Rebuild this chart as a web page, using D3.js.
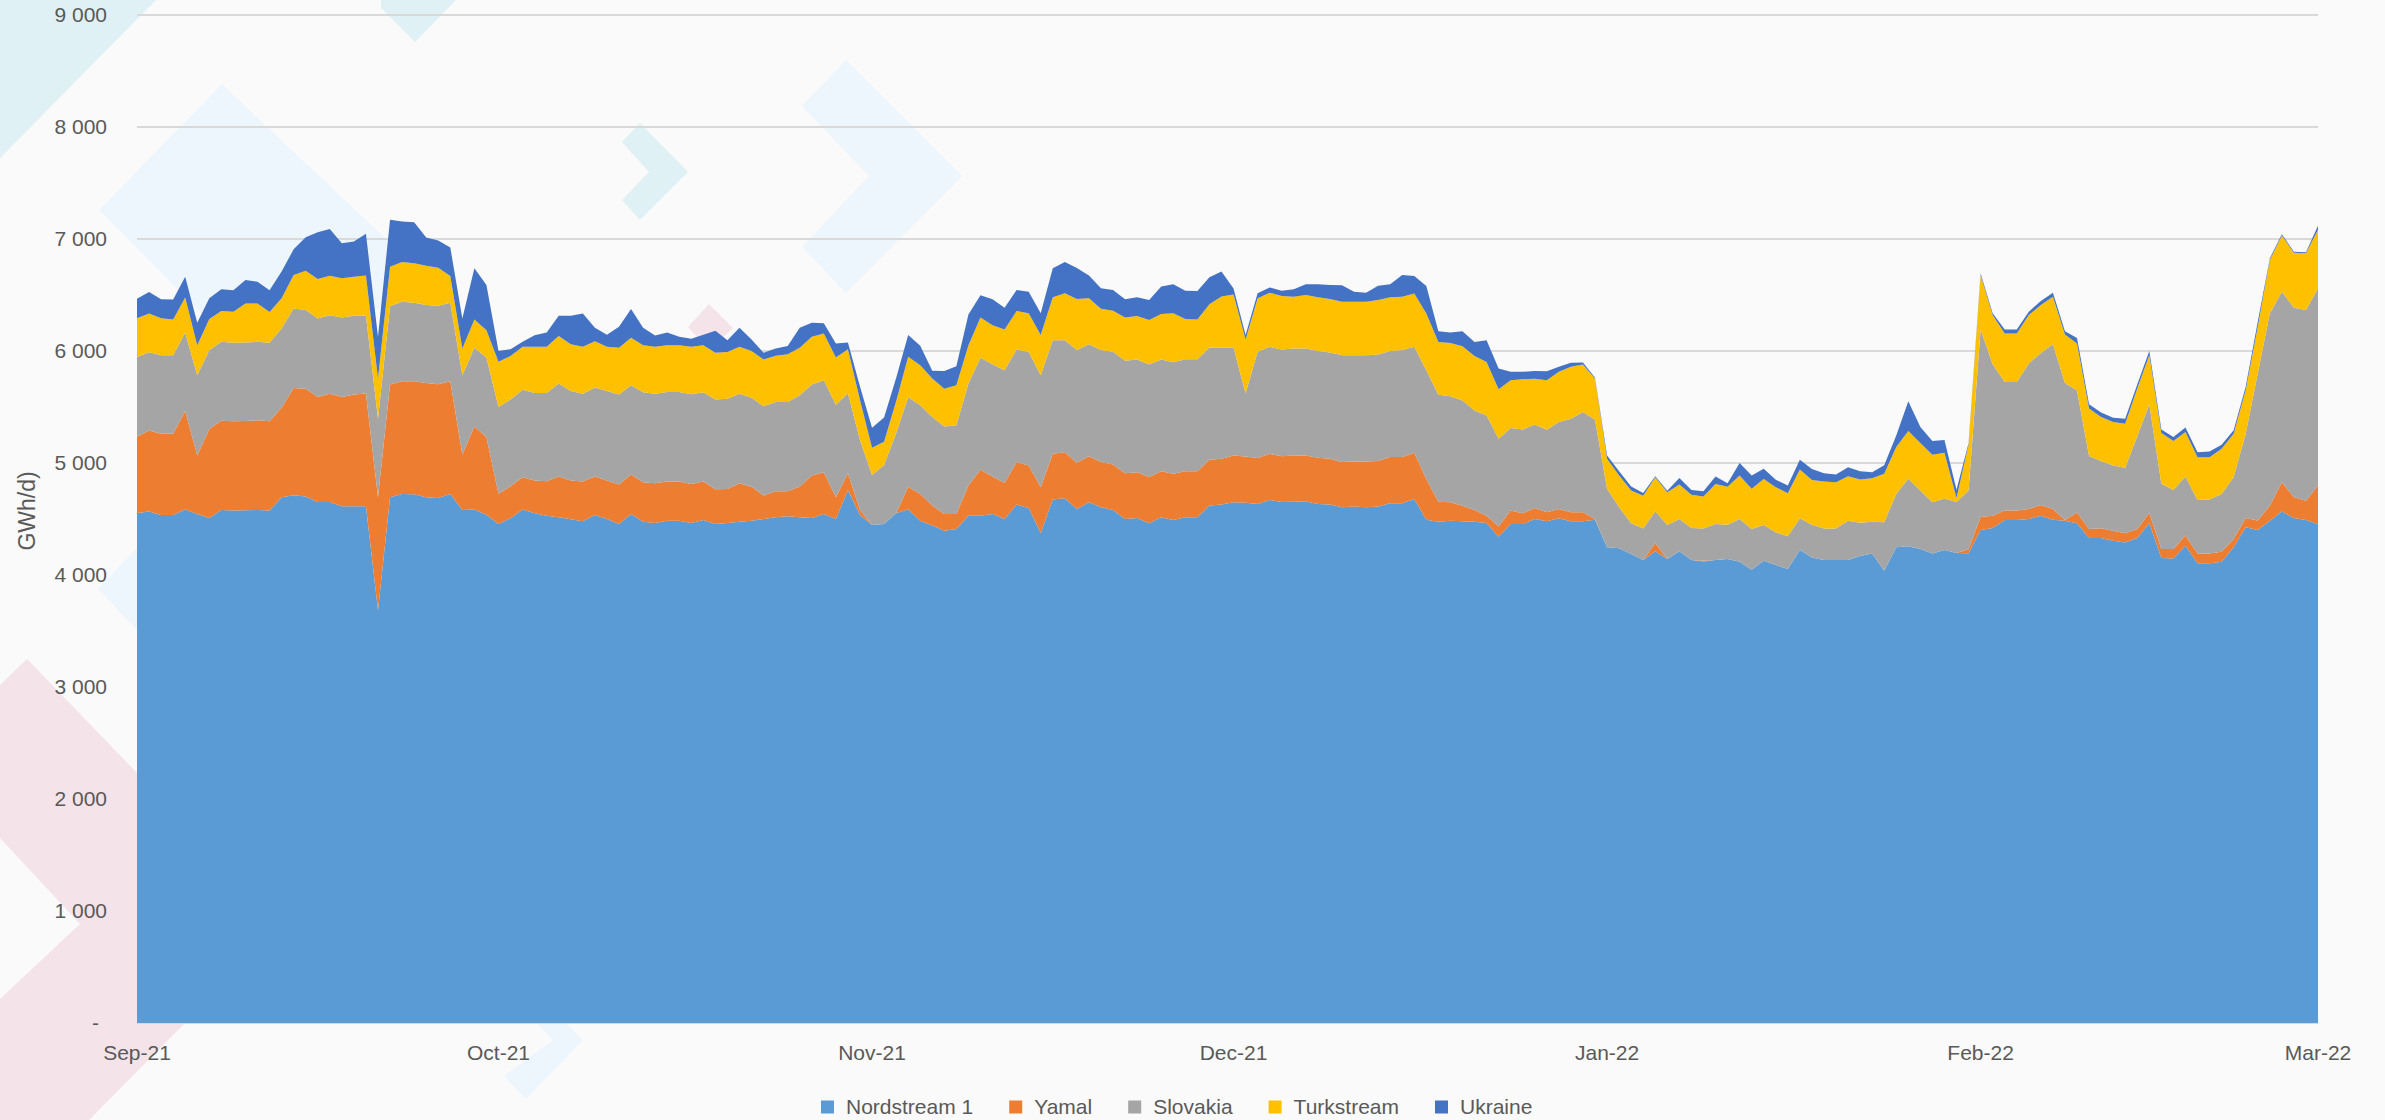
<!DOCTYPE html>
<html>
<head>
<meta charset="utf-8">
<script src="https://cdn.jsdelivr.net/npm/d3@7"></script>
<style>
  body { margin: 0; background: #fafafa; }
  text { font-family: "Liberation Sans", Arial, sans-serif; fill: #595959; }
</style>
</head>
<body>
<script>
// daily flows Sep 1 2021 -> Mar 1 2022, GWh/d
const series = ["Nordstream 1", "Yamal", "Slovakia", "Turkstream", "Ukraine"]
const colors = ["#5B9BD5", "#ED7D31", "#A5A5A5", "#FFC000", "#4472C4"]

const nordstream = [
  4554,4566,4536,4536,4584,4545,4509,4581,4575,4578,4581,4575,4694,4712,4700,4652,4652,4614,4614,4614,
  3686,4694,4724,4721,4694,4688,4724,4581,4584,4539,4456,4506,4584,4551,4530,4515,4497,4479,4536,4500,
  4456,4545,4476,4464,4485,4485,4464,4491,4456,4464,4476,4485,4500,4515,4524,4515,4509,4545,4500,4759,
  4536,4446,4455,4551,4586,4485,4441,4396,4411,4530,4530,4545,4500,4629,4599,4375,4673,4685,4590,4649,
  4605,4581,4500,4509,4462,4515,4491,4515,4515,4620,4629,4649,4644,4635,4670,4652,4655,4658,4635,4629,
  4605,4611,4605,4611,4641,4641,4679,4494,4476,4485,4479,4476,4464,4342,4456,4456,4500,4479,4506,4479,
  4479,4494,4247,4238,4187,4133,4211,4142,4211,4133,4121,4133,4142,4118,4047,4127,4089,4053,4223,4157,
  4133,4133,4133,4169,4193,4038,4247,4256,4232,4193,4223,4196,4194,4402,4420,4491,4491,4500,4530,4494,
  4485,4461,4330,4330,4306,4291,4330,4464,4151,4148,4262,4106,4106,4118,4247,4426,4402,4485,4566,4509,
  4491,4456
]
const yamal = [
  683,725,725,725,880,522,794,797,797,797,800,797,800,958,964,937,967,976,997,1006,
  1009,1006,1006,1009,1021,1015,1006,495,743,692,269,286,289,292,307,364,346,355,343,343,
  352,352,352,355,349,349,349,343,310,304,343,304,209,233,224,275,379,373,195,149,
  45,0,0,0,202,239,179,149,134,269,409,334,322,379,379,409,409,412,412,412,
  403,406,409,409,412,412,412,412,412,409,409,418,415,409,412,409,412,409,412,409,
  403,403,409,406,412,412,412,364,179,164,140,104,66,90,119,95,98,81,84,81,
  81,6,0,0,0,0,75,0,0,0,6,0,0,0,0,0,0,0,0,0,
  0,0,0,0,0,0,0,0,0,0,0,0,36,116,110,84,84,90,95,95,
  6,98,81,87,90,81,81,90,81,84,90,87,87,90,75,84,84,134,263,185,
  173,343
]
const slovakia = [
  710,698,701,701,698,716,704,704,701,701,701,701,707,710,701,701,701,710,704,695,
  701,701,710,701,695,701,701,707,701,710,776,776,782,782,788,830,800,785,794,800,
  803,797,803,800,800,800,800,797,800,806,800,794,797,797,797,815,812,821,825,714,
  625,446,527,714,798,791,791,782,791,910,1000,1003,1006,1006,1012,1000,1015,1000,1006,1000,
  1000,1006,1003,1006,1006,997,997,1000,1000,1003,994,964,561,949,955,952,955,955,952,949,
  955,949,949,952,946,955,946,970,955,946,940,889,895,785,737,749,746,737,776,836,
  895,886,522,367,275,283,283,304,289,286,289,322,307,382,364,319,292,292,283,292,
  283,283,352,298,283,433,477,603,522,457,461,455,524,1673,1352,1149,1149,1298,1358,1471,
  1223,1089,651,600,582,585,827,970,582,528,528,477,480,516,552,752,1313,1716,1701,1692,
  1701,1761
]
const turkstream = [
  346,346,331,319,316,269,278,275,278,349,343,275,269,298,352,352,352,349,349,358,
  358,352,355,352,352,340,239,239,254,245,403,388,382,412,412,424,418,418,415,394,
  418,424,421,418,418,418,424,421,418,418,418,418,418,412,427,424,427,418,423,393,
  357,244,208,286,363,358,343,337,358,343,361,349,364,343,346,358,382,418,457,409,
  370,367,388,388,397,406,436,358,355,385,454,474,483,477,483,477,463,477,480,477,
  477,477,477,486,480,477,477,507,471,477,483,486,477,442,427,448,409,442,448,463,
  424,367,269,283,292,292,304,292,307,298,286,358,340,388,358,412,403,385,436,400,
  418,412,397,385,388,433,418,427,424,424,408,36,408,485,439,433,433,433,427,424,
  433,418,424,394,388,394,427,439,454,436,397,382,379,403,388,388,418,477,501,492,
  507,522
]
const ukraine = [
  173,191,170,179,185,200,185,194,191,209,194,194,239,230,298,418,418,313,313,373,
  373,418,361,367,251,242,254,269,457,403,95,60,45,104,128,182,254,298,119,107,
  188,257,155,101,113,75,72,93,197,104,170,101,60,66,72,179,125,90,125,60,
  119,179,217,208,193,173,69,158,170,275,197,230,194,188,194,194,260,280,275,203,
  182,185,161,167,179,245,260,254,254,242,224,54,39,45,48,48,66,98,116,125,
  146,90,81,128,116,194,155,245,95,93,134,125,194,185,75,66,69,81,45,36,
  18,9,30,39,36,24,9,15,60,42,45,66,30,113,119,90,66,69,87,98,
  75,69,81,75,54,75,104,266,143,122,113,74,15,15,15,36,36,30,36,36,
  30,51,39,39,39,45,36,36,30,36,39,45,51,36,30,30,45,15,12,9,
  9,36
]
const yTicks = [0,1000,2000,3000,4000,5000,6000,7000,8000,9000]

const width = 2385, height = 1120
const margin = {left: 137, right: 67, top: 15, bottom: 97}

const dates = d3.utcDay.range(Date.UTC(2021,8,1), Date.UTC(2022,2,2))
const rows = dates.map((d, i) => ({
  date: d,
  "Nordstream 1": nordstream[i],
  "Yamal": yamal[i],
  "Slovakia": slovakia[i],
  "Turkstream": turkstream[i],
  "Ukraine": ukraine[i]
}))

const svg = d3.select('body').append('svg')
  .attr('width', width).attr('height', height)

svg.append('rect').attr('width', width).attr('height', height).attr('fill', '#fafafa')

// faint chevrons in the background
const deco = [
  {c: '#dff1f4', p: [[0,0],[156,0],[0,158]]},
  {c: '#dff1f4', p: [[381,0],[456,0],[415,42],[381,8]]},
  {c: '#eef6fd', p: [[222,84],[99,210],[240,352],[440,290]]},
  {c: '#dff1f4', p: [[640,123],[688,172],[640,220],[622,200],[649,172],[622,142]]},
  {c: '#eef6fd', p: [[846,60],[962,176],[846,293],[802,247],[869,176],[802,106]]},
  {c: '#f4e3e8', p: [[709,304],[688,327],[709,350],[733,328]]},
  {c: '#eef6fd', p: [[137,548],[98,589],[137,630]]},
  {c: '#f4e3e8', p: [[0,685],[27,659],[283,924],[89,1120],[0,1120],[0,999],[80,924],[0,838]]},
  {c: '#eef6fd', p: [[540,997],[583,1040],[526,1099],[504,1076],[553,1040],[510,997]]}
]
svg.append('g').selectAll('path').data(deco).join('path')
  .attr('d', d => 'M' + d.p.join('L') + 'Z')
  .attr('fill', d => d.c)

const x = d3.scaleUtc()
  .domain([dates[0], dates[dates.length - 1]])
  .range([margin.left, width - margin.right])
const y = d3.scaleLinear()
  .domain([0, 9000])
  .range([height - margin.bottom, margin.top])

//gridlines
svg.append('g').selectAll('line').data(yTicks).join('line')
  .attr('x1', x.range()[0]).attr('x2', x.range()[1])
  .attr('y1', d => y(d)).attr('y2', d => y(d))
  .attr('stroke', '#d9d9d9').attr('stroke-width', 2)

const stacked = d3.stack().keys(series)(rows)
const area = d3.area()
  .x(d => x(d.data.date))
  .y0(d => y(d[0]))
  .y1(d => y(d[1]))

svg.append('g').selectAll('path').data(stacked).join('path')
  .attr('d', area)
  .attr('fill', (d, i) => colors[i])

// y labels
const fmt = d => d === 0 ? '-' : d3.format(',')(d).replace(/,/g, ' ')
svg.append('g').selectAll('text').data(yTicks).join('text')
  .attr('x', d => d === 0 ? 99 : 107)
  .attr('y', d => y(d))
  .attr('dy', '0.35em')
  .attr('text-anchor', 'end')
  .style('font-size', '21px')
  .text(fmt)

// x labels
const months = d3.utcMonth.range(Date.UTC(2021,8,1), Date.UTC(2022,2,2))
svg.append('g').selectAll('text').data(months).join('text')
  .attr('x', d => x(d))
  .attr('y', 1053)
  .attr('dy', '0.35em')
  .attr('text-anchor', 'middle')
  .style('font-size', '21px')
  .text(d3.utcFormat('%b-%y'))

svg.append('text')
  .attr('transform', 'translate(27,511) rotate(-90)')
  .attr('text-anchor', 'middle')
  .attr('dy', '0.35em')
  .style('font-size', '23px')
  .text('GWh/d)')

// legend
let lx = 821
const ly = 1107
series.forEach((s, i) => {
  svg.append('rect')
    .attr('x', lx).attr('y', ly - 6.5)
    .attr('width', 13).attr('height', 13)
    .attr('fill', colors[i])
  const t = svg.append('text')
    .attr('x', lx + 25).attr('y', ly)
    .attr('dy', '0.35em')
    .style('font-size', '21px')
    .text(s)
  lx = lx + 25 + t.node().getComputedTextLength() + 36
})
</script>
</body>
</html>
